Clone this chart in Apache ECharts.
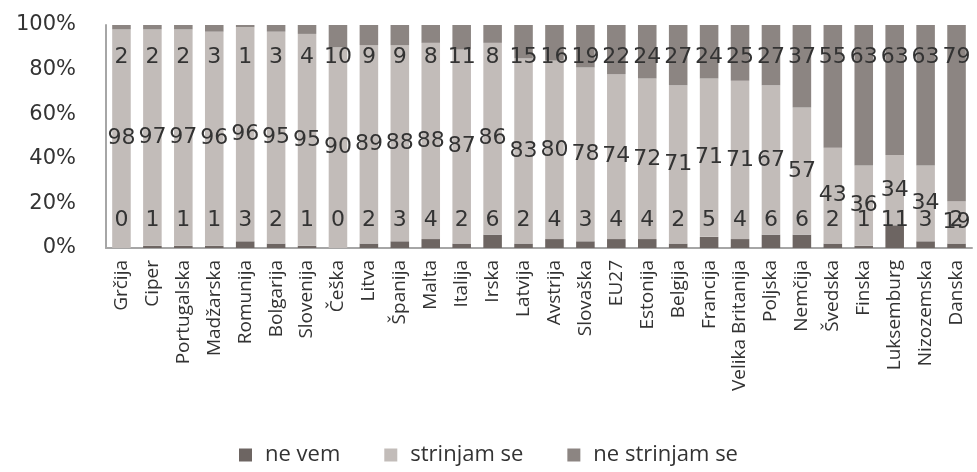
<!DOCTYPE html>
<html>
<head>
<meta charset="utf-8">
<script src="https://cdn.jsdelivr.net/npm/echarts@6/dist/echarts.min.js"></script>
<style>
html,body{margin:0;padding:0;background:#fff;}
#chart{width:977px;height:472px;}
</style>
</head>
<body>
<div id="chart"></div>
<script>
const categories = ['Grčija','Ciper','Portugalska','Madžarska','Romunija','Bolgarija','Slovenija','Češka','Litva','Španija','Malta','Italija','Irska','Latvija','Avstrija','Slovaška','EU27','Estonija','Belgija','Francija','Velika Britanija','Poljska','Nemčija','Švedska','Finska','Luksemburg','Nizozemska','Danska'];
const neVem = [0,1,1,1,3,2,1,0,2,3,4,2,6,2,4,3,4,4,2,5,4,6,6,2,1,11,3,2];
const strinjamSe = [98,97,97,96,96,95,95,90,89,88,88,87,86,83,80,78,74,72,71,71,71,67,57,43,36,34,34,19];
const neStrinjamSe = [2,2,2,3,1,3,4,10,9,9,8,11,8,15,16,19,22,24,27,24,25,27,37,55,63,63,63,79];
const yTicks = [0,20,40,60,80,100];

const totals = categories.map((c,i)=>neVem[i]+strinjamSe[i]+neStrinjamSe[i]);
const pct = arr => arr.map((v,i)=>v/totals[i]*100);

const labelFont = {fontFamily:'DejaVu Sans', fontSize:22, color:'#333'};

const chart = echarts.init(document.getElementById('chart'));
chart.setOption({
  animation:false,
  textStyle:{fontFamily:'DejaVu Sans'},
  grid:{left:106, right:5, top:25, bottom:224, containLabel:false},
  legend:{
    bottom:1, left:'center',
    itemWidth:13, itemHeight:13, itemGap:44,
    icon:'rect',
    textStyle:{fontFamily:'Open Sans', fontSize:22, color:'#333', padding:[0,0,0,8]},
    data:['ne vem','strinjam se','ne strinjam se']
  },
  xAxis:{
    type:'category', data:categories,
    axisLine:{lineStyle:{color:'#a6a6a6', width:2}},
    axisTick:{show:false},
    axisLabel:{rotate:90, interval:0, fontFamily:'Open Sans', fontSize:19, color:'#333', margin:12}
  },
  yAxis:{
    type:'value', min:yTicks[0], max:yTicks[yTicks.length-1], interval:20,
    axisLine:{show:true, lineStyle:{color:'#a6a6a6', width:2}},
    axisTick:{show:false},
    splitLine:{show:false},
    axisLabel:{formatter:'{value}%', fontFamily:'DejaVu Sans', fontSize:21, color:'#333', margin:30}
  },
  series:[
    {
      name:'ne vem', type:'bar', stack:'a', barCategoryGap:'40%',
      data:pct(neVem),
      itemStyle:{color:'#6d6562'},
      label:Object.assign({show:true, position:'insideBottom', offset:[0,-12],
        formatter:p=>String(neVem[p.dataIndex])}, labelFont)
    },
    {
      name:'strinjam se', type:'bar', stack:'a',
      data:pct(strinjamSe),
      itemStyle:{color:'#c2bcb9'},
      label:Object.assign({show:true, position:'inside',
        formatter:p=>String(strinjamSe[p.dataIndex])}, labelFont)
    },
    {
      name:'ne strinjam se', type:'bar', stack:'a',
      data:pct(neStrinjamSe),
      itemStyle:{color:'#8c8582'},
      label:Object.assign({show:true, position:'insideTop', offset:[0,16],
        formatter:p=>String(neStrinjamSe[p.dataIndex])}, labelFont)
    }
  ]
});
</script>
</body>
</html>
